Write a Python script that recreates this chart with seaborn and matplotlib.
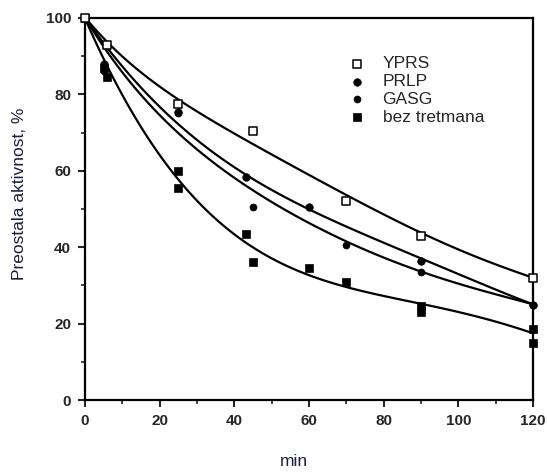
import matplotlib
matplotlib.use('Agg')
import matplotlib.pyplot as plt
from matplotlib.ticker import MultipleLocator
import seaborn as sns

# izmjerene tocke
yprs_t = [0, 6, 25, 45, 70, 90, 120]
yprs_v = [100, 93, 77.5, 70.5, 52, 43, 32]
prlp_t = [0, 5, 25, 43, 60, 90, 120]
prlp_v = [100, 88, 75.5, 58.5, 50.5, 36.5, 25]
gasg_t = [5, 25, 45, 70, 90, 120]
gasg_v = [86, 75, 50.5, 40.5, 33.5, 25]
bez_t = [0, 5, 6, 25, 25, 43, 45, 60, 70, 90, 90, 120, 120]
bez_v = [100, 87, 84.5, 60, 55.5, 43.5, 36, 34.5, 31, 24.5, 23, 18.5, 15]

# krivulje (ocitane sa slike)
fit_t = [0, 10, 20, 30, 40, 50, 60, 70, 80, 90, 100, 110, 120]
yprs_fit = [100, 90.5, 81.5, 75.5, 69.8, 64.5, 59, 53.5, 48.5, 43.8, 39.5, 35.5, 32]
prlp_fit = [100, 87.5, 76.5, 68.3, 60.8, 54.8, 50.2, 45.5, 41, 37, 33, 29, 25]
gasg_fit = [100, 86, 74.5, 65.5, 58, 52, 46.5, 41.5, 37.2, 33.5, 30.5, 27.8, 25]
bez_fit = [100, 79.5, 64.5, 52, 43.5, 37, 32.5, 29.7, 27.3, 25.2, 23, 20.5, 17.5]

sns.set_style('ticks')
plt.rcParams['font.family'] = ['Liberation Sans', 'DejaVu Sans']

fig = plt.figure(figsize=(5.47, 4.72), dpi=100)
ax = fig.add_axes([0.1554, 0.1525, 0.819, 0.8094])

# glatke krivulje kroz ocitane vrijednosti
for curve in [yprs_fit, prlp_fit, gasg_fit, bez_fit]:
    sns.regplot(x=fit_t, y=curve, ax=ax, order=5, ci=None, scatter=False,
                truncate=True, line_kws={'color': 'black', 'lw': 1.6, 'zorder': 2})

sns.scatterplot(x=yprs_t, y=yprs_v, ax=ax, marker='s', s=28, color='white',
                edgecolor='black', linewidth=1.1, label='YPRS', clip_on=False, zorder=4)
sns.scatterplot(x=prlp_t, y=prlp_v, ax=ax, marker='o', s=30, color='black',
                edgecolor='black', label='PRLP', clip_on=False, zorder=3)
sns.scatterplot(x=gasg_t, y=gasg_v, ax=ax, marker='o', s=26, color='black',
                edgecolor='black', label='GASG', clip_on=False, zorder=3)
sns.scatterplot(x=bez_t, y=bez_v, ax=ax, marker='s', s=36, color='black',
                edgecolor='black', label='bez tretmana', clip_on=False, zorder=3)

ax.set_xlim(0, 120)
ax.set_ylim(0, 100)
ax.set_xticks(range(0, 121, 20))
ax.set_yticks(range(0, 101, 20))
ax.xaxis.set_minor_locator(MultipleLocator(10))
ax.yaxis.set_minor_locator(MultipleLocator(10))
ax.tick_params(which='major', direction='out', length=5, width=1.5, labelsize=11, pad=5)
ax.tick_params(which='minor', direction='out', length=3, width=1.2)
for lab in ax.get_xticklabels() + ax.get_yticklabels():
    lab.set_fontweight('bold')
for sp in ax.spines.values():
    sp.set_linewidth(1.6)
    sp.set_color('black')
ax.set_xlabel('')
ax.set_ylabel('')

handles, labels = ax.get_legend_handles_labels()
ax.get_legend().remove()
fig.legend(handles, labels, loc='upper left', bbox_to_anchor=(0.636, 0.881),
           frameon=False, fontsize=12.5, handlelength=1.0, handletextpad=1.0,
           labelspacing=0.15, borderpad=0, borderaxespad=0)

fig.text(20 / 547, 1 - 194 / 472, 'Preostala aktivnost, %', rotation=90,
         ha='center', va='center', fontsize=12.5, color='#1c1c3c')
fig.text(294 / 547, 1 - 462 / 472, 'min', ha='center', va='center',
         fontsize=12.5, color='#1c1c3c')

fig.savefig('out.png', dpi=100)
